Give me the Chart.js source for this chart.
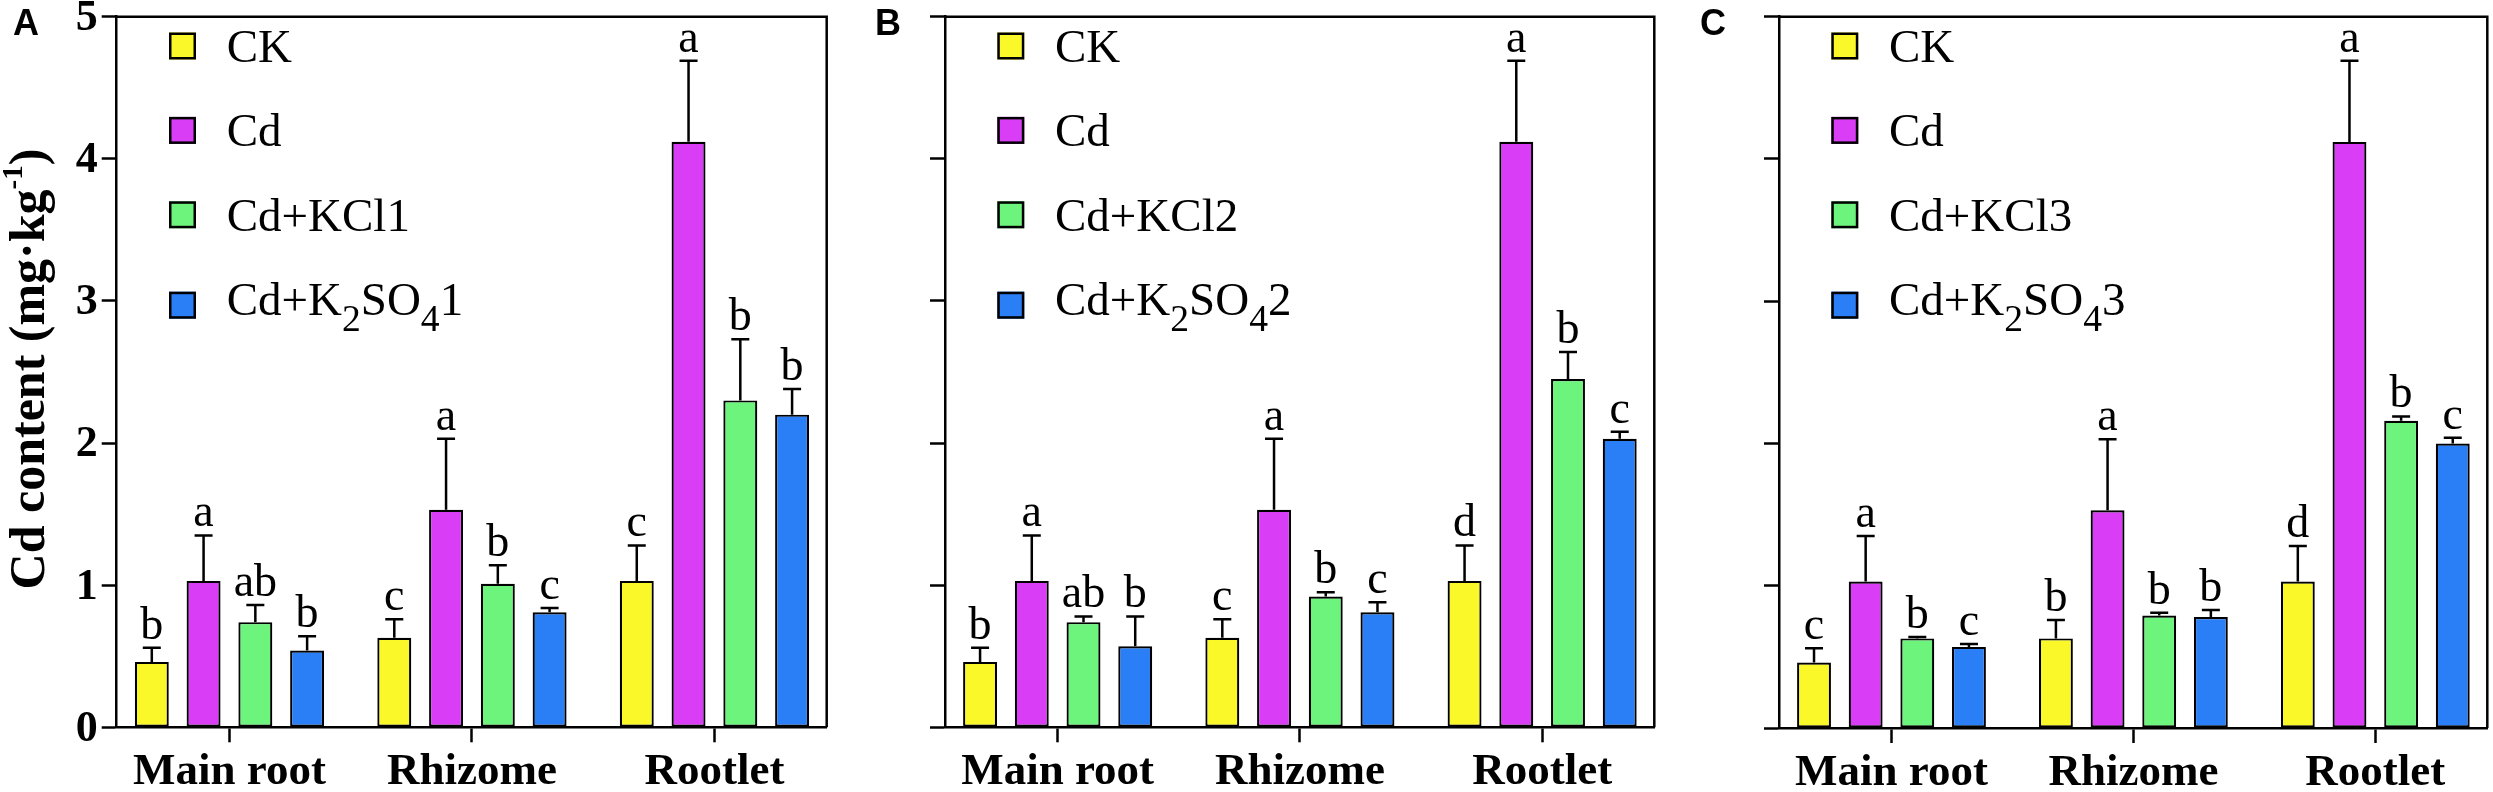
<!DOCTYPE html>
<html>
<head>
<meta charset="utf-8">
<title>Cd content</title>
<script src="https://cdn.jsdelivr.net/npm/chart.js@4.4.1/dist/chart.umd.min.js"></script>
<style>
  html, body { margin: 0; padding: 0; background: #fff; }
  #wrap { position: relative; width: 2493px; height: 792px; overflow: hidden; }
  .panel { position: absolute; top: 0; }
</style>
</head>
<body>
<div id="wrap">
  <canvas id="chartA" class="panel" width="830" height="792" style="left:0px"></canvas>
  <canvas id="chartB" class="panel" width="830" height="792" style="left:830px"></canvas>
  <canvas id="chartC" class="panel" width="833" height="792" style="left:1660px"></canvas>
</div>
<script>
// --------------------
// Data
// --------------------
const categories = ["Main root", "Rhizome", "Rootlet"];
const yTicks = [0, 1, 2, 3, 4, 5];

// CK and Cd are the same in every panel
const ckMean = [0.46, 0.63, 1.03];
const ckErr = [0.10, 0.13, 0.25];
const cdMean = [1.03, 1.53, 4.12];
const cdErr = [0.32, 0.50, 0.57];

// Panel A
const kcl1Mean = [0.74, 1.01, 2.30];
const kcl1Err = [0.12, 0.13, 0.43];
const k2so41Mean = [0.54, 0.81, 2.20];
const k2so41Err = [0.10, 0.03, 0.18];
const lettersA = [["b", "c", "c"], ["a", "a", "a"], ["ab", "b", "b"], ["b", "c", "b"]];

// Panel B
const kcl2Mean = [0.74, 0.92, 2.45];
const kcl2Err = [0.04, 0.03, 0.19];
const k2so42Mean = [0.57, 0.81, 2.03];
const k2so42Err = [0.21, 0.07, 0.05];
const lettersB = [["b", "c", "d"], ["a", "a", "a"], ["ab", "b", "b"], ["b", "c", "c"]];

// Panel C
const kcl3Mean = [0.63, 0.79, 2.16];
const kcl3Err = [0.01, 0.02, 0.03];
const k2so43Mean = [0.57, 0.78, 2.00];
const k2so43Err = [0.02, 0.05, 0.04];
const lettersC = [["c", "b", "d"], ["a", "a", "a"], ["b", "b", "b"], ["c", "b", "c"]];

const colors = ["#FBF829", "#DA3DF6", "#6DF47C", "#2A7EF6"];

const SERIF = "'Liberation Serif', 'Times New Roman', serif";
const SANS = "'Liberation Sans', Arial, sans-serif";

// --------------------
// Rich text: unicode sub/superscripts drawn as smaller shifted text
// --------------------
const SUB = "₀₁₂₃₄₅₆₇₈₉";
const SUP = { "⁻": "-", "¹": "1", "²": "2", "³": "3" };

function richParts(text) {
  const parts = [];
  for (const ch of text) {
    let kind = "normal";
    let c = ch;
    const si = SUB.indexOf(ch);
    if (si >= 0) { kind = "sub"; c = String(si); }
    else if (SUP[ch]) { kind = "sup"; c = SUP[ch]; }
    const last = parts[parts.length - 1];
    if (last && last.kind === kind) last.text += c;
    else parts.push({ kind: kind, text: c });
  }
  return parts;
}

function drawRich(ctx, text, x, y, st, align) {
  const parts = richParts(text);
  const fontFor = k => `${st.weight} ${k === "normal" ? st.size : st.size * st.small}px ${st.family}`;
  let w = 0;
  parts.forEach(p => {
    ctx.font = fontFor(p.kind);
    p.w = ctx.measureText(p.text).width;
    w += p.w;
  });
  let cx = align === "center" ? x - w / 2 : x;
  ctx.textAlign = "left";
  ctx.textBaseline = "alphabetic";
  parts.forEach(p => {
    ctx.font = fontFor(p.kind);
    const dy = p.kind === "sub" ? st.subShift : p.kind === "sup" ? -st.supShift : 0;
    ctx.fillText(p.text, cx, y + dy);
    cx += p.w;
  });
}

// --------------------
// Plugins
// --------------------
const errorBars = {
  id: "errorBars",
  afterDatasetsDraw(chart) {
    const ctx = chart.ctx;
    const yScale = chart.scales.y;
    ctx.save();
    ctx.strokeStyle = "#000";
    ctx.fillStyle = "#000";
    ctx.lineWidth = 2.5;
    chart.data.datasets.forEach((ds, di) => {
      const meta = chart.getDatasetMeta(di);
      meta.data.forEach((bar, i) => {
        const top = yScale.getPixelForValue(ds.data[i].y + ds.errors[i]);
        ctx.beginPath();
        ctx.moveTo(bar.x, bar.y);
        ctx.lineTo(bar.x, top);
        ctx.moveTo(bar.x - 9, top);
        ctx.lineTo(bar.x + 9, top);
        ctx.stroke();
        ctx.font = `46px ${SERIF}`;
        ctx.textAlign = "center";
        ctx.textBaseline = "alphabetic";
        ctx.fillText(ds.letters[i], bar.x, top - 9);
      });
    });
    ctx.restore();
  }
};

const frameAndText = {
  id: "frameAndText",
  afterDraw(chart, args, opts) {
    const ctx = chart.ctx;
    const a = chart.chartArea;
    ctx.save();
    // top and right border of the box
    ctx.strokeStyle = "#000";
    ctx.lineWidth = 2.5;
    ctx.beginPath();
    ctx.moveTo(a.left, a.top);
    ctx.lineTo(a.right, a.top);
    ctx.lineTo(a.right, a.bottom);
    ctx.stroke();

    // legend inside the plot
    const legendStyle = { weight: "normal", size: 47, small: 0.8, subShift: 16, supShift: 0, family: SERIF };
    chart.data.datasets.forEach((ds, i) => {
      const base = a.top + 45.3 + i * 84.4;
      const hasSub = /[₀-₉]/.test(ds.label);
      const cy = base - 16 + (hasSub ? 6 : 0);
      const bx = a.left + 52.3;
      ctx.fillStyle = ds.backgroundColor;
      ctx.fillRect(bx, cy - 13.5, 27, 27);
      ctx.lineWidth = 2.5;
      ctx.strokeRect(bx + 1.25, cy - 12.25, 24.5, 24.5);
      ctx.fillStyle = "#000";
      drawRich(ctx, ds.label, bx + 57.7, base, legendStyle, "left");
    });

    // y axis title
    if (opts.yTitle) {
      ctx.translate(opts.yTitleX, (a.top + a.bottom) / 2 - 3);
      ctx.rotate(-Math.PI / 2);
      ctx.fillStyle = "#000";
      drawRich(ctx, opts.yTitle, 0, 0,
        { weight: "bold", size: 50, small: 0.58, subShift: 0, supShift: 22, family: SERIF }, "center");
      ctx.setTransform(1, 0, 0, 1, 0, 0);
      ctx.scale(chart.currentDevicePixelRatio, chart.currentDevicePixelRatio);
    }

    // panel letter
    ctx.fillStyle = "#000";
    ctx.font = `bold 36px ${SANS}`;
    ctx.textAlign = "left";
    ctx.textBaseline = "alphabetic";
    ctx.fillText(opts.panel, opts.panelX, 35);
    ctx.restore();
  }
};

// --------------------
// Panel builder
// --------------------
function makePanel(id, p) {
  const series = [
    { label: "CK", mean: ckMean, err: ckErr },
    { label: "Cd", mean: cdMean, err: cdErr },
    { label: p.kclLabel, mean: p.kclMean, err: p.kclErr },
    { label: p.k2so4Label, mean: p.k2so4Mean, err: p.k2so4Err }
  ];
  const datasets = series.map((s, si) => ({
    label: s.label,
    data: categories.map((c, i) => ({ x: i, y: s.mean[i] })),
    errors: s.err,
    letters: p.letters[si],
    backgroundColor: colors[si],
    borderColor: "#000",
    borderWidth: 2.2,
    borderSkipped: false,
    categoryPercentage: 0.854,
    barPercentage: 0.656
  }));

  new Chart(document.getElementById(id), {
    type: "bar",
    data: { datasets: datasets },
    plugins: [errorBars, frameAndText],
    options: {
      responsive: false,
      animation: false,
      layout: { padding: { left: 0, top: 16.7, right: p.padRight, bottom: 0 } },
      plugins: {
        legend: { display: false },
        tooltip: { enabled: false },
        frameAndText: { panel: p.panel, panelX: p.panelX, yTitle: p.yTitle, yTitleX: 43.5 }
      },
      scales: {
        x: {
          type: "linear",
          offset: false,
          min: -0.465,
          max: 2.463,
          afterBuildTicks: s => { s.ticks = categories.map((c, i) => ({ value: i })); },
          afterFit: s => { s.height = p.xHeight; s.paddingLeft = 0; s.paddingRight = 0; },
          ticks: {
            callback: v => categories[v],
            autoSkip: false,
            maxRotation: 0,
            padding: 3,
            color: "#000",
            font: { family: SERIF, size: 45, weight: "bold" }
          },
          grid: { offset: false, drawOnChartArea: false, drawTicks: true, tickLength: 15, tickWidth: 2.5, tickColor: "#000" },
          border: { display: true, color: "#000", width: 2.5 }
        },
        y: {
          min: 0,
          max: 5,
          afterBuildTicks: s => { s.ticks = yTicks.map(v => ({ value: v })); },
          afterFit: s => { s.width = p.yWidth; s.paddingTop = 0; s.paddingBottom = 0; },
          ticks: {
            display: p.yLabels,
            padding: 4,
            labelOffset: 2,
            color: "#000",
            font: { family: SERIF, size: 44, weight: "bold" }
          },
          grid: { drawOnChartArea: false, drawTicks: true, tickLength: 15, tickWidth: 2.5, tickColor: "#000" },
          border: { display: true, color: "#000", width: 2.5 }
        }
      }
    }
  });
}

makePanel("chartA", {
  panel: "A", panelX: 13, yLabels: true, yTitle: "Cd content (mg·kg⁻¹)",
  yWidth: 116.7, padRight: 3.3, xHeight: 64.7,
  kclLabel: "Cd+KCl1", kclMean: kcl1Mean, kclErr: kcl1Err,
  k2so4Label: "Cd+K₂SO₄1", k2so4Mean: k2so41Mean, k2so4Err: k2so41Err,
  letters: lettersA
});

makePanel("chartB", {
  panel: "B", panelX: 45, yLabels: false, yTitle: null,
  yWidth: 115, padRight: 5.7, xHeight: 64.7,
  kclLabel: "Cd+KCl2", kclMean: kcl2Mean, kclErr: kcl2Err,
  k2so4Label: "Cd+K₂SO₄2", k2so4Mean: k2so42Mean, k2so4Err: k2so42Err,
  letters: lettersB
});

makePanel("chartC", {
  panel: "C", panelX: 40, yLabels: false, yTitle: null,
  yWidth: 119, padRight: 5.7, xHeight: 64,
  kclLabel: "Cd+KCl3", kclMean: kcl3Mean, kclErr: kcl3Err,
  k2so4Label: "Cd+K₂SO₄3", k2so4Mean: k2so43Mean, k2so4Err: k2so43Err,
  letters: lettersC
});
</script>
</body>
</html>
